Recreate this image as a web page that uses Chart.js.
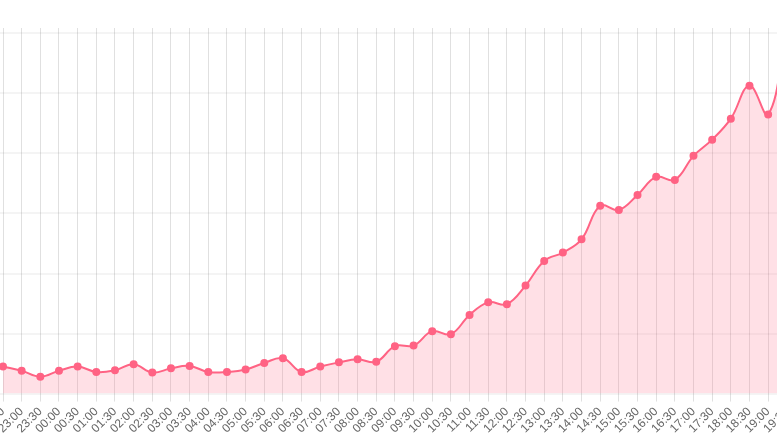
<!DOCTYPE html>
<html>
<head>
<meta charset="utf-8">
<script src="https://cdn.jsdelivr.net/npm/chart.js@4"></script>
<style>
  html, body { margin: 0; padding: 0; overflow: hidden; background: #fff; }
  #wrap { position: absolute; left: -37px; top: 0; width: 837px; height: 439px; }
</style>
</head>
<body>
<div id="wrap"><canvas id="chart"></canvas></div>
<script>
const timeLabels = [
    '22:30', '23:00', '23:30', '00:00', '00:30', '01:00', '01:30', '02:00', '02:30',
    '03:00', '03:30', '04:00', '04:30', '05:00', '05:30', '06:00', '06:30', '07:00',
    '07:30', '08:00', '08:30', '09:00', '09:30', '10:00', '10:30', '11:00', '11:30',
    '12:00', '12:30', '13:00', '13:30', '14:00', '14:30', '15:00', '15:30', '16:00',
    '16:30', '17:00', '17:30', '18:00', '18:30', '19:00', '19:30'
];

const counts = [
    45, 38, 28, 38, 45, 36, 39, 49, 35,
    42, 46, 36, 36, 40, 51, 59, 36, 45,
    52, 57, 53, 79, 80, 104, 99, 131, 152,
    149, 180, 221, 235, 257, 313, 306, 331, 361,
    356, 396, 423, 458, 513, 465, 605
];

const yMax = 609;
const yStep = 100;

document.addEventListener('DOMContentLoaded', () => {
    const ctx = document.getElementById('chart').getContext('2d');

    new Chart(ctx, {
        type: 'line',
        data: {
            labels: timeLabels,
            datasets: [{
                label: 'Count',
                data: counts,
                borderColor: 'rgb(255, 99, 132)',
                backgroundColor: 'rgba(255, 99, 132, 0.2)',
                pointBackgroundColor: 'rgb(255, 99, 132)',
                pointBorderColor: 'rgb(255, 99, 132)',
                pointRadius: 3,
                borderWidth: 2,
                tension: 0.4,
                fill: true
            }]
        },
        options: {
            responsive: true,
            maintainAspectRatio: false,
            animation: false,
            plugins: {
                legend: { display: false },
                tooltip: { enabled: false }
            },
            layout: {
                padding: { top: 28 }
            },
            scales: {
                x: {
                    grid: {
                        color: 'rgba(0, 0, 0, 0.12)'
                    },
                    border: { display: false },
                    ticks: {
                        autoSkip: false,
                        minRotation: 45,
                        maxRotation: 45,
                        color: '#666',
                        font: { size: 12 }
                    }
                },
                y: {
                    beginAtZero: true,
                    max: yMax,
                    afterFit: (scale) => { scale.width = 40; },
                    grid: {
                        color: 'rgba(0, 0, 0, 0.045)',
                        lineWidth: 2
                    },
                    border: { display: false },
                    ticks: {
                        stepSize: yStep,
                        includeBounds: false,
                        color: '#666'
                    }
                }
            }
        }
    });
});
</script>
</body>
</html>
